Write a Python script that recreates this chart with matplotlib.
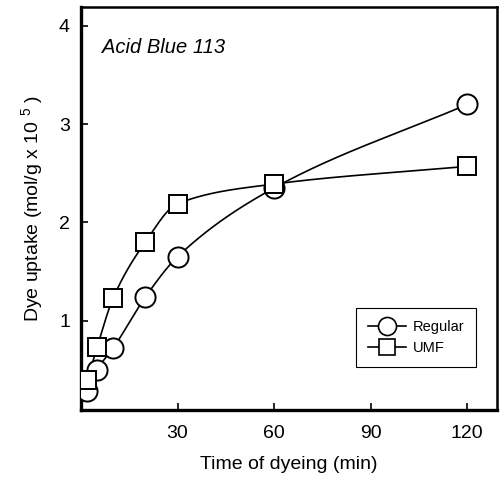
import numpy as np
import matplotlib
matplotlib.use("Agg")
import matplotlib.pyplot as plt

plt.rcParams['font.family'] = ['Liberation Sans', 'DejaVu Sans']
plt.rcParams['mathtext.default'] = 'regular'

# dyeing time (min)
time_min = [2, 5, 10, 20, 30, 60, 120]
# dye uptake (mol/g x 10^5)
regular = [0.28, 0.50, 0.72, 1.24, 1.65, 2.35, 3.20]
umf = [0.40, 0.73, 1.23, 1.80, 2.19, 2.39, 2.57]

x_ticks = [30, 60, 90, 120]
y_ticks = [1, 2, 3, 4]


def pchip(x, y, xs):
    # monotone cubic curve through the measured points (for the drawn line only)
    x = np.asarray(x, float)
    y = np.asarray(y, float)
    h = np.diff(x)
    d = np.diff(y) / h
    m = np.zeros_like(y)
    for k in range(1, len(x) - 1):
        if d[k - 1] * d[k] > 0:
            w1 = 2 * h[k] + h[k - 1]
            w2 = h[k] + 2 * h[k - 1]
            m[k] = (w1 + w2) / (w1 / d[k - 1] + w2 / d[k])
    m[0] = d[0]
    m[-1] = d[-1]
    out = np.empty_like(xs)
    for i, xv in enumerate(xs):
        k = min(np.searchsorted(x, xv, side='right') - 1, len(x) - 2)
        k = max(k, 0)
        t = (xv - x[k]) / h[k]
        h00 = 2 * t**3 - 3 * t**2 + 1
        h10 = t**3 - 2 * t**2 + t
        h01 = -2 * t**3 + 3 * t**2
        h11 = t**3 - t**2
        out[i] = h00 * y[k] + h10 * h[k] * m[k] + h01 * y[k + 1] + h11 * h[k] * m[k + 1]
    return out


fig = plt.figure(figsize=(5.0, 4.79), dpi=100)
ax = fig.add_axes([0.162, 0.144, 0.832, 0.841])

xs = np.linspace(time_min[0], time_min[-1], 400)
ax.plot(xs, pchip(time_min, regular, xs), color='black', lw=1.2, zorder=2)
ax.plot(xs, pchip(time_min, umf, xs), color='black', lw=1.2, zorder=2)

ax.plot(time_min, regular, linestyle='none', marker='o', ms=14.5,
        mfc='white', mec='black', mew=1.4, zorder=3)
ax.plot(time_min, umf, linestyle='none', marker='s', ms=12.5,
        mfc='white', mec='black', mew=1.4, zorder=4)

# legend proxies
h1, = ax.plot([], [], color='black', lw=1.2, marker='o', ms=13,
              mfc='white', mec='black', mew=1.2, label='Regular')
h2, = ax.plot([], [], color='black', lw=1.2, marker='s', ms=11.5,
              mfc='white', mec='black', mew=1.2, label='UMF')
leg = ax.legend(handles=[h1, h2], loc='lower right',
                bbox_to_anchor=(0.95, 0.107), borderaxespad=0,
                fontsize=10.5, fancybox=False, edgecolor='black',
                handlelength=2.6, handletextpad=0.5, borderpad=0.8,
                labelspacing=0.5, framealpha=1)
leg.get_frame().set_linewidth(0.8)

ax.set_xlim(0, 129.3)
ax.set_ylim(0.09, 4.19)
ax.set_xticks(x_ticks)
ax.set_yticks(y_ticks)
ax.tick_params(direction='in', length=5, width=1.2, labelsize=14)
ax.tick_params(axis='x', pad=11)
ax.tick_params(axis='y', pad=8)

for side in ['left', 'bottom']:
    ax.spines[side].set_linewidth(2.4)
for side in ['top', 'right']:
    ax.spines[side].set_linewidth(1.8)

ax.text(0.05, 0.90, 'Acid Blue 113', transform=ax.transAxes,
        fontsize=14.5, style='italic', va='center', ha='left')

ax.set_xlabel('Time of dyeing (min)', fontsize=14, labelpad=10)
ax.set_ylabel('Dye uptake (mol/g x 10 $^{5}$ )', fontsize=14, labelpad=10)

fig.savefig('out.png', dpi=100)
